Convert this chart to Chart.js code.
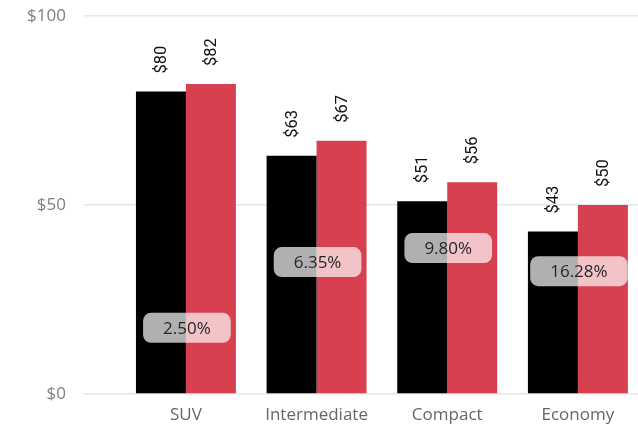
<!DOCTYPE html>
<html>
<head>
<meta charset="utf-8">
<script src="https://cdn.jsdelivr.net/npm/chart.js@4/dist/chart.umd.min.js"></script>
<style>
  html, body { margin: 0; padding: 0; background: #fff; overflow: hidden; }
  #wrap { width: 638px; height: 424px; position: relative; }
</style>
</head>
<body>
<div id="wrap"><canvas id="c"></canvas></div>
<script>
// Average daily rental price per car class, before and after
const categories = ['SUV', 'Intermediate', 'Compact', 'Economy'];
const priceBefore = [80, 63, 51, 43];
const priceAfter = [82, 67, 56, 50];
const yTicks = [0, 50, 100];

// Percentage change from the first price to the second, e.g. "2.50%"
const growthLabels = priceBefore.map((v, i) => ((priceAfter[i] - v) / v * 100).toFixed(2) + '%');

// Heights (in $) at which each change badge sits
const badgeLevel = [17.5, 34.9, 38.6, 32.5];

const uiFont = '"Open Sans", "Noto Sans", sans-serif';

const valueLabels = {
  id: 'valueLabels',
  afterDatasetsDraw(chart) {
    const ctx = chart.ctx;
    ctx.save();
    ctx.font = '16.5px Roboto, "DejaVu Sans", sans-serif';
    ctx.fillStyle = '#111';
    ctx.textAlign = 'left';
    ctx.textBaseline = 'middle';
    chart.data.datasets.forEach((ds, di) => {
      chart.getDatasetMeta(di).data.forEach((bar, i) => {
        ctx.save();
        ctx.translate(bar.x + 1, bar.y - 18);
        ctx.rotate(-Math.PI / 2);
        ctx.fillText('$' + ds.data[i].y, 0, 0);
        ctx.restore();
      });
    });
    ctx.restore();
  }
};

const growthBadges = {
  id: 'growthBadges',
  afterDatasetsDraw(chart) {
    const ctx = chart.ctx;
    const a = chart.getDatasetMeta(0).data;
    const b = chart.getDatasetMeta(1).data;
    const y = chart.scales.y;
    ctx.save();
    ctx.font = '17px ' + uiFont;
    growthLabels.forEach((txt, i) => {
      const cx = (a[i].x + b[i].x) / 2 + 1;
      const cy = y.getPixelForValue(badgeLevel[i]);
      const w = ctx.measureText(txt).width + 40;
      const h = 30;
      ctx.beginPath();
      ctx.roundRect(cx - w / 2, cy - h / 2, w, h, 8);
      ctx.fillStyle = 'rgba(255,255,255,0.69)';
      ctx.fill();
      ctx.fillStyle = '#262626';
      ctx.textAlign = 'center';
      ctx.textBaseline = 'middle';
      ctx.fillText(txt, cx, cy + 1);
    });
    ctx.restore();
  }
};

new Chart(document.getElementById('c'), {
  type: 'bar',
  data: {
    datasets: [
      {
        label: 'Before',
        data: priceBefore.map((v, i) => ({ x: i, y: v })),
        backgroundColor: '#000000',
        categoryPercentage: 0.765,
        barPercentage: 1.0
      },
      {
        label: 'After',
        data: priceAfter.map((v, i) => ({ x: i, y: v })),
        backgroundColor: '#D6404F',
        categoryPercentage: 0.765,
        barPercentage: 1.0
      }
    ]
  },
  options: {
    responsive: true,
    maintainAspectRatio: false,
    animation: false,
    layout: { padding: { top: 16, right: 0, left: 0, bottom: 0 } },
    plugins: { legend: { display: false }, tooltip: { enabled: false } },
    scales: {
      x: {
        type: 'linear',
        offset: false,
        min: -0.78,
        max: 3.46,
        grid: { display: false, offset: false },
        border: { display: false },
        ticks: {
          stepSize: 1,
          includeBounds: false,
          autoSkip: false,
          maxRotation: 0,
          padding: 3,
          color: '#666',
          font: { family: uiFont, size: 17 },
          callback: v => (Number.isInteger(v) && categories[v] !== undefined) ? categories[v] : ''
        },
        afterFit: s => { s.height = 30; }
      },
      y: {
        min: 0,
        max: 100,
        afterBuildTicks: s => { s.ticks = yTicks.map(v => ({ value: v })); },
        grid: { color: '#e6e6e6', lineWidth: 1.5, drawTicks: false },
        border: { display: false },
        ticks: {
          padding: 18,
          color: '#808080',
          font: { family: uiFont, size: 17 },
          callback: v => '$' + v
        },
        afterFit: s => { s.width = 84; s.paddingTop = 0; s.paddingBottom = 0; }
      }
    }
  },
  plugins: [valueLabels, growthBadges]
});
</script>
</body>
</html>
